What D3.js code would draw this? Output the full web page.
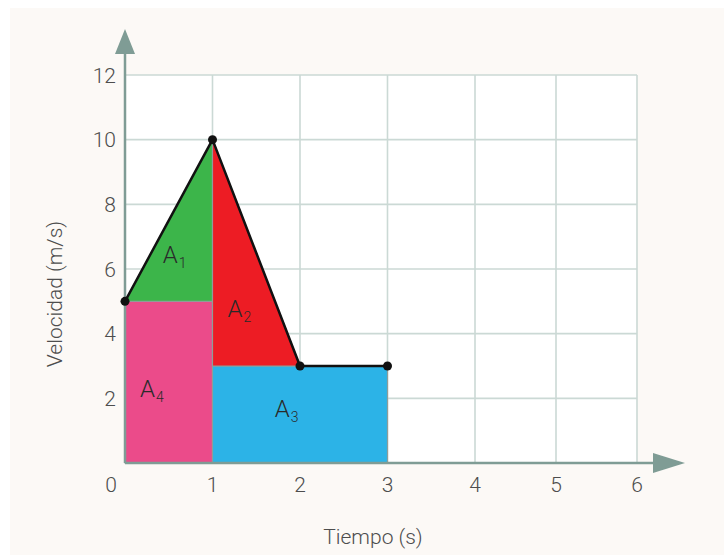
<!DOCTYPE html>
<html>
<head>
<meta charset="utf-8">
<script src="https://cdn.jsdelivr.net/npm/d3@7"></script>
<style>
  body { margin: 0; background: #ffffff; }
  text { font-family: Roboto, "Noto Sans", sans-serif; font-weight: 300; }
</style>
</head>
<body>
<svg id="chart" width="724" height="555"></svg>
<script>
// ---- data ----
const xTicks = [0, 1, 2, 3, 4, 5, 6];
const yTicks = [2, 4, 6, 8, 10, 12];
const lineT = [0, 1, 2, 3];
const lineV = [5, 10, 3, 3];
const areaNames = ["A1", "A2", "A3", "A4"];
const areaColors = ["#3cb54a", "#ed1c24", "#2cb3e7", "#eb4b8a"];
const areaPolys = [
  [[0, 5], [1, 10], [1, 5]],
  [[1, 10], [2, 3], [1, 3]],
  [[1, 0], [1, 3], [3, 3], [3, 0]],
  [[0, 0], [0, 5], [1, 5], [1, 0]]
];
const labelPos = [[0.43, 6.2], [1.17, 4.52], [1.71, 1.42], [0.17, 2.04]];
const xTitle = "Tiempo (s)";
const yTitle = "Velocidad (m/s)";

// ---- layout ----
const svg = d3.select("#chart");
const x = d3.scaleLinear().domain([0, 4, 6]).range([125, 475, 637]);
const y = d3.scaleLinear().domain([0, 12]).range([463, 75]);

// backgrounds
svg.append("rect").attr("x", 10).attr("y", 8).attr("width", 714).attr("height", 547).attr("fill", "#fcf9f6");
svg.append("rect").attr("x", x(0)).attr("y", y(12)).attr("width", x(6) - x(0)).attr("height", y(0) - y(12)).attr("fill", "#ffffff");

// grid
const gridColor = "#cbd9d5";
svg.append("g").selectAll("line").data(yTicks).join("line")
  .attr("x1", x(0)).attr("x2", x(6)).attr("y1", d => y(d)).attr("y2", d => y(d))
  .attr("stroke", gridColor).attr("stroke-width", 1.6);
svg.append("g").selectAll("line").data(xTicks.slice(1)).join("line")
  .attr("x1", d => x(d)).attr("x2", d => x(d)).attr("y1", y(0)).attr("y2", y(12))
  .attr("stroke", gridColor).attr("stroke-width", 1.6);

// area polygons
const order = [3, 2, 0, 1];
svg.append("g").selectAll("polygon").data(order).join("polygon")
  .attr("points", i => areaPolys[i].map(p => [x(p[0]), y(p[1])].join(",")).join(" "))
  .attr("fill", i => areaColors[i])
  .attr("stroke", "#8f9d99").attr("stroke-width", 1.2).attr("stroke-linejoin", "miter");

// axes with arrows
const axisColor = "#7f9c95";
svg.append("line").attr("x1", x(0)).attr("x2", x(0)).attr("y1", y(0)).attr("y2", 50)
  .attr("stroke", axisColor).attr("stroke-width", 2.5);
svg.append("path").attr("d", `M${x(0) - 10},54 L${x(0) + 10},54 L${x(0)},29 Z`).attr("fill", axisColor);
svg.append("line").attr("x1", x(0)).attr("x2", 656).attr("y1", y(0)).attr("y2", y(0))
  .attr("stroke", axisColor).attr("stroke-width", 2.5);
svg.append("path").attr("d", `M653,${y(0) - 10} L653,${y(0) + 10} L685,${y(0)} Z`).attr("fill", axisColor);

// velocity line
const line = d3.line().x((d, i) => x(lineT[i])).y(d => y(d));
svg.append("path").attr("d", line(lineV)).attr("fill", "none")
  .attr("stroke", "#111").attr("stroke-width", 2.5).attr("stroke-linejoin", "round");
svg.append("g").selectAll("circle").data(lineV).join("circle")
  .attr("cx", (d, i) => x(lineT[i])).attr("cy", d => y(d)).attr("r", 4.5).attr("fill", "#111");

// tick labels
const tickColor = "#4d4d4d";
svg.append("g").selectAll("text").data(yTicks).join("text")
  .attr("x", 116).attr("y", d => y(d) + 2).attr("text-anchor", "end").attr("dominant-baseline", "middle")
  .attr("font-size", 21).attr("fill", tickColor).text(d => d);
svg.append("g").selectAll("text").data(xTicks).join("text")
  .attr("x", d => d === 0 ? x(d) - 14 : x(d)).attr("y", 492).attr("text-anchor", "middle")
  .attr("font-size", 21).attr("fill", tickColor).text(d => d);

// titles
svg.append("text").attr("x", 373).attr("y", 544).attr("text-anchor", "middle")
  .attr("font-size", 21).attr("fill", tickColor).text(xTitle);
svg.append("text").attr("transform", "translate(62,294) rotate(-90)").attr("text-anchor", "middle")
  .attr("font-size", 21).attr("fill", tickColor).text(yTitle);

// area labels
const lbl = svg.append("g").selectAll("text").data(areaNames).join("text")
  .attr("x", (d, i) => x(labelPos[i][0])).attr("y", (d, i) => y(labelPos[i][1]))
  .attr("font-size", 24).attr("fill", "#2a2a2a");
lbl.append("tspan").text(d => d[0]);
lbl.append("tspan").attr("dx", 1).attr("dy", 5).attr("font-size", 14).text(d => d.slice(1));
</script>
</body>
</html>
